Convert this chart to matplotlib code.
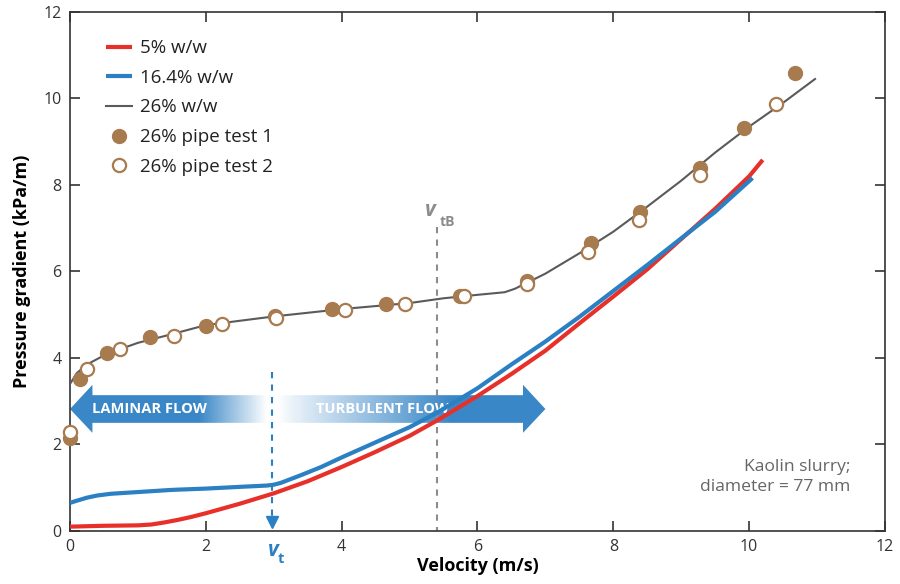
import numpy as np
import matplotlib.pyplot as plt
from matplotlib.patches import Polygon
from matplotlib.colors import to_rgb

plt.rcParams['font.family'] = ['Open Sans', 'DejaVu Sans']

# curves
x_5 = [0, 0.5, 1.0, 1.2, 1.4, 1.6, 1.8, 2.0, 2.25, 2.5, 3.0, 3.5, 4.0, 4.5,
       5.0, 5.4, 6.0, 6.5, 7.0, 7.5, 8.0, 8.5, 9.0, 9.5, 10.0, 10.2]
y_5 = [0.1, 0.12, 0.13, 0.15, 0.2, 0.26, 0.33, 0.41, 0.52, 0.63, 0.87, 1.15,
       1.48, 1.83, 2.2, 2.55, 3.12, 3.63, 4.17, 4.8, 5.42, 6.05, 6.75, 7.45,
       8.2, 8.58]

x_16 = [0, 0.1, 0.25, 0.4, 0.6, 1.0, 1.5, 2.0, 2.5, 2.9, 3.0, 3.1, 3.2, 3.4,
        3.7, 4.0, 4.5, 5.0, 5.4, 6.0, 6.5, 7.0, 7.5, 8.0, 8.5, 9.1, 9.5, 10.05]
y_16 = [0.65, 0.7, 0.77, 0.82, 0.86, 0.9, 0.95, 0.98, 1.02, 1.05, 1.07, 1.11,
        1.17, 1.29, 1.48, 1.7, 2.05, 2.4, 2.73, 3.3, 3.85, 4.38, 4.95, 5.55,
        6.15, 6.89, 7.38, 8.16]

x_26 = [0, 0.1, 0.25, 0.55, 1.0, 1.5, 2.0, 3.0, 4.0, 5.0, 5.5, 6.0, 6.4, 6.55,
        7.0, 7.5, 8.0, 8.5, 9.0, 9.5, 10.0, 10.5, 10.97]
y_26 = [3.4, 3.65, 3.85, 4.1, 4.35, 4.55, 4.76, 4.96, 5.13, 5.27, 5.38, 5.46,
        5.52, 5.6, 5.95, 6.42, 6.92, 7.5, 8.1, 8.75, 9.35, 9.9, 10.45]

# pipe tests
t1_x = [0.0, 0.15, 0.54, 1.18, 2.0, 3.02, 3.86, 4.65, 5.74, 6.73, 7.67, 8.4,
        9.28, 9.93, 10.68]
t1_y = [2.15, 3.51, 4.12, 4.49, 4.74, 4.97, 5.13, 5.25, 5.43, 5.78, 6.66,
        7.38, 8.39, 9.32, 10.59]
t2_x = [0.0, 0.25, 0.74, 1.53, 2.24, 3.03, 4.05, 4.93, 5.80, 6.73, 7.62, 8.38,
        9.28, 10.40]
t2_y = [2.29, 3.75, 4.21, 4.51, 4.79, 4.92, 5.11, 5.25, 5.43, 5.71, 6.45,
        7.19, 8.23, 9.87]

v_t = 2.98
v_tB = 5.41

RED = '#e8302a'
BLUE = '#2a80c2'
GREY = '#5a5a5a'
BROWN = '#a87b4f'
ARROW = '#3a87c7'
VTB_GREY = '#8c8c8c'

fig = plt.figure(figsize=(9, 5.84), dpi=100)
ax = fig.add_axes([0.0778, 0.0908, 0.9055, 0.8887])

# laminar / turbulent arrow with fading gradient
ax_pts = [(0, 2.82), (0.33, 3.38), (0.33, 3.14), (6.67, 3.14), (6.67, 3.38),
          (7.0, 2.82), (6.67, 2.27), (6.67, 2.5), (0.33, 2.5), (0.33, 2.27)]
arrow = Polygon(ax_pts, closed=True, facecolor='none', edgecolor='none')
ax.add_patch(arrow)
gx = np.linspace(0, 7, 700)
alpha = np.interp(gx, [0, 1.9, 2.9, 3.05, 3.3, 5.6, 7], [1, 1, 0.0, 0.0, 0.12, 1, 1])
img = np.zeros((2, len(gx), 4))
img[..., :3] = to_rgb(ARROW)
img[..., 3] = alpha
im = ax.imshow(img, extent=(0, 7, 2.27, 3.38), aspect='auto', origin='lower',
               zorder=1, interpolation='bilinear')
im.set_clip_path(arrow)
ax.text(0.33, 2.82, 'LAMINAR FLOW', color='white', fontsize=10.5,
        fontweight='bold', fontstretch='condensed', va='center', ha='left',
        zorder=2)
ax.text(4.6, 2.82, 'TURBULENT FLOW', color='white', fontsize=10.5,
        fontweight='bold', fontstretch='condensed', va='center', ha='center',
        zorder=2)

# transition lines
ax.plot([v_t, v_t], [3.68, 0.3], color=BLUE, lw=1.5, ls=(0, (3, 3)), zorder=3)
ax.plot([v_t], [0.2], marker='v', color=BLUE, ms=8, zorder=3, clip_on=False)
ax.plot([v_tB, v_tB], [7.03, 0], color=VTB_GREY, lw=1.5, ls=(0, (3, 3)),
        zorder=1.5)

ax.plot(x_5, y_5, color=RED, lw=3, label='5% w/w', zorder=4,
        solid_capstyle='butt')
ax.plot(x_16, y_16, color=BLUE, lw=3, label='16.4% w/w', zorder=4,
        solid_capstyle='butt')
ax.plot(x_26, y_26, color=GREY, lw=1.5, label='26% w/w', zorder=4)
ax.plot(t1_x, t1_y, 'o', color=BROWN, ms=10, label='26% pipe test 1',
        zorder=5, clip_on=False)
ax.plot(t2_x, t2_y, 'o', mfc='white', mec=BROWN, mew=1.6, ms=9.5,
        label='26% pipe test 2', zorder=6, clip_on=False)

# labels for v_t and v_tB
ax.text(v_t + 0.02, -0.45, 'v', color=BLUE, fontsize=15, fontweight='bold',
        fontstyle='italic', ha='center', va='center', clip_on=False)
ax.text(v_t + 0.08, -0.65, 't', color=BLUE, fontsize=10.5, fontweight='bold',
        ha='left', va='center', clip_on=False)
ax.text(v_tB - 0.1, 7.4, 'v', color=VTB_GREY, fontsize=15, fontweight='bold',
        fontstyle='italic', ha='center', va='center')
ax.text(v_tB + 0.03, 7.15, 'tB', color=VTB_GREY, fontsize=10,
        fontweight='bold', ha='left', va='center')

ax.text(11.49, 1.25, 'Kaolin slurry;\ndiameter = 77 mm', color='#666666',
        fontsize=12.6, ha='right', va='center', linespacing=1.3)

ax.set_xlim(0, 12)
ax.set_ylim(0, 12)
ax.set_xticks(np.arange(0, 13, 2))
ax.set_yticks(np.arange(0, 13, 2))
ax.tick_params(direction='in', length=7, width=1.2, top=True, right=True,
               labelsize=11.5, colors='#333333', pad=6)
for s in ax.spines.values():
    s.set_linewidth(1.2)
    s.set_color('#333333')

ax.set_xlabel('Velocity (m/s)', fontsize=13, fontweight='bold', labelpad=1)
ax.set_ylabel('Pressure gradient (kPa/m)', fontsize=13, fontweight='bold',
              labelpad=9)

leg = ax.legend(loc='upper left', bbox_to_anchor=(0.023, 0.98), frameon=False,
                fontsize=13.5, handlelength=1.4, handletextpad=0.45,
                labelspacing=0.62)
for t in leg.get_texts():
    t.set_color('#222222')

fig.savefig('out.png', dpi=100)
